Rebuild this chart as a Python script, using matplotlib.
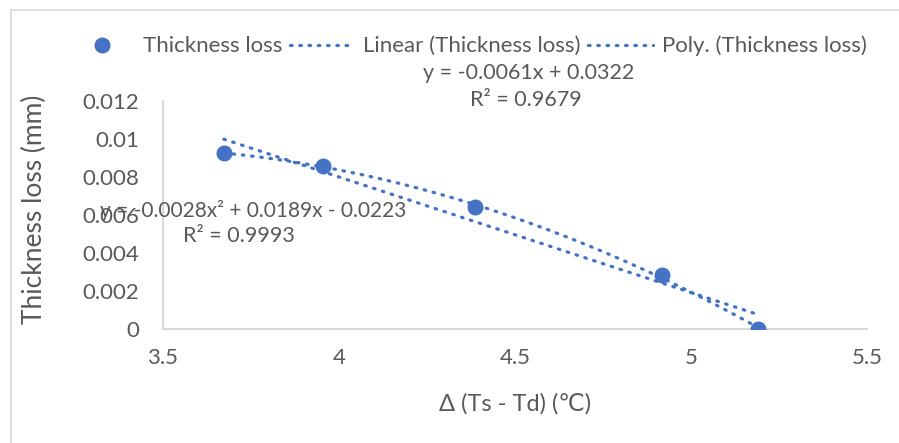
import numpy as np
import matplotlib
matplotlib.use("Agg")
import matplotlib.pyplot as plt
from matplotlib.lines import Line2D

# data
delta_t = [3.673, 3.955, 4.386, 4.918, 5.19]
thickness_loss = [0.00926, 0.00858, 0.00642, 0.00284, 0.0]

x_ticks = [3.5, 4, 4.5, 5, 5.5]
x_tick_labels = ["3.5", "4", "4.5", "5", "5.5"]
y_ticks = [0, 0.002, 0.004, 0.006, 0.008, 0.01, 0.012]
y_tick_labels = ["0", "0.002", "0.004", "0.006", "0.008", "0.01", "0.012"]

linear_eq = "y = -0.0061x + 0.0322"
linear_r2 = "R² = 0.9679"
poly_eq = "y = -0.0028x² + 0.0189x - 0.0223"
poly_r2 = "R² = 0.9993"

blue = "#4472C4"
grey_text = "#595959"
axis_grey = "#d9d9d9"

plt.rcParams['font.family'] = ['Lato', 'DejaVu Sans']

fig = plt.figure(figsize=(8.99, 4.43), dpi=100)
ax = fig.add_axes([163 / 899, 1 - 329 / 443, (867 - 163) / 899, (329 - 101) / 443])

dotted = (0, (0.5, 2.4))

# scatter
ax.plot(delta_t, thickness_loss, 'o', color=blue, markersize=10.5, zorder=3)

# trendlines fitted from the points
xs = np.linspace(min(delta_t), max(delta_t), 200)
lin = np.polyfit(delta_t, thickness_loss, 1)
quad = np.polyfit(delta_t, thickness_loss, 2)
ax.plot(xs, np.polyval(lin, xs), color=blue, lw=2.3, linestyle=dotted,
        dash_capstyle='round', zorder=2)
ax.plot(xs, np.polyval(quad, xs), color=blue, lw=2.3, linestyle=dotted,
        dash_capstyle='round', zorder=2)

ax.set_xlim(3.5, 5.5)
ax.set_ylim(0, 0.012)
ax.set_xticks(x_ticks)
ax.set_xticklabels(x_tick_labels)
ax.set_yticks(y_ticks)
ax.set_yticklabels(y_tick_labels)
ax.tick_params(length=0, labelsize=16, colors=grey_text)
ax.tick_params(axis='y', pad=17)
ax.tick_params(axis='x', pad=14)
for s in ['top', 'right']:
    ax.spines[s].set_visible(False)
for s in ['left', 'bottom']:
    ax.spines[s].set_color(axis_grey)
    ax.spines[s].set_linewidth(1.5)

ax.set_xlabel("Δ (Ts - Td) (℃)", fontsize=17, color=grey_text, labelpad=18)
ax.set_ylabel("Thickness loss (mm)", fontsize=19, color=grey_text, va='center')
ax.yaxis.set_label_coords(-0.182, 0.526)

# equation labels
fig.text(529 / 899, 1 - 73 / 443, linear_eq, fontsize=15.5, color=grey_text, ha='center', va='center')
fig.text(526 / 899, 1 - 100 / 443, linear_r2, fontsize=15.5, color=grey_text, ha='center', va='center')
fig.text(253 / 899, 1 - 210 / 443, poly_eq, fontsize=15, color=grey_text, ha='center', va='center')
fig.text(239 / 899, 1 - 236 / 443, poly_r2, fontsize=15.5, color=grey_text, ha='center', va='center')

# legend
handles = [
    Line2D([], [], marker='o', color=blue, linestyle='none', markersize=10.5),
    Line2D([], [], color=blue, lw=2.3, linestyle=dotted, dash_capstyle='round'),
    Line2D([], [], color=blue, lw=2.3, linestyle=dotted, dash_capstyle='round'),
]
labels = ["Thickness loss", "Linear (Thickness loss)", "Poly. (Thickness loss)"]
leg = fig.legend(handles, labels, loc='center', bbox_to_anchor=(468 / 899, 1 - 46 / 443),
                 ncol=3, frameon=False, fontsize=16, handlelength=2.9, handletextpad=0.4,
                 columnspacing=0.35, labelcolor=grey_text)

# chart border
fig.add_artist(Line2D([11 / 899, 11 / 899], [0, 1 - 10 / 443], color=axis_grey, lw=1.2,
                      transform=fig.transFigure))
fig.add_artist(Line2D([11 / 899, 1], [1 - 10 / 443, 1 - 10 / 443], color=axis_grey, lw=1.2,
                      transform=fig.transFigure))

fig.savefig("out.png", dpi=100, facecolor='white')
